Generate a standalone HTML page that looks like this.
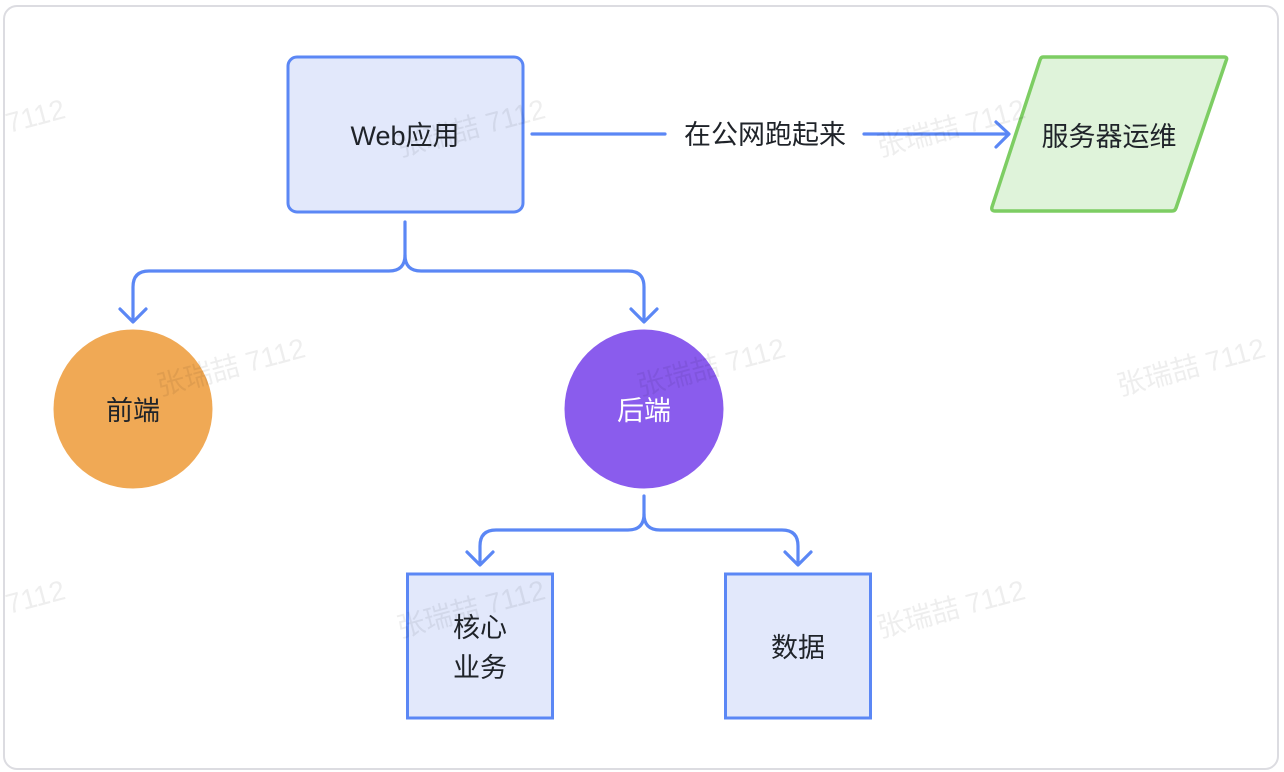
<!DOCTYPE html>
<html>
<head>
<meta charset="utf-8">
<style>
  html, body { margin:0; padding:0; background:#fff; }
  body { width:1284px; height:772px; overflow:hidden; }
  svg { display:block; }
  .t { font-family:"Liberation Sans","Noto Sans CJK SC",sans-serif; font-size:27px; fill:#1f2329; }
  .wm { font-family:"Liberation Sans","Noto Sans CJK SC",sans-serif; font-size:28px; fill:#000000; fill-opacity:0.065; }
</style>
</head>
<body>
<svg width="1284" height="772" viewBox="0 0 1284 772" xmlns="http://www.w3.org/2000/svg">
  <!-- outer frame -->
  <rect x="4" y="6" width="1274" height="763" rx="13" ry="13" fill="#fff" stroke="#dcdce1" stroke-width="2"/>

  <!-- connectors -->
  <g fill="none" stroke="#5b87f5" stroke-width="3.2" stroke-linecap="round" stroke-linejoin="round">
    <line x1="532" y1="134" x2="665" y2="134"/>
    <line x1="864" y1="134" x2="1008" y2="134"/>
    <polyline points="996,122 1009,134 996,147"/>
    <path d="M405 222 V255 Q405 271 389 271 H149 Q133 271 133 287 V320"/>
    <path d="M405 255 Q405 271 421 271 H628 Q644 271 644 287 V320"/>
    <polyline points="120,309 133,322 146,309"/>
    <polyline points="631,309 644,322 657,309"/>
    <path d="M644 496 V514 Q644 530 628 530 H496 Q480 530 480 546 V563"/>
    <path d="M644 514 Q644 530 660 530 H782 Q798 530 798 546 V563"/>
    <polyline points="467,552 480,565 493,552"/>
    <polyline points="785,552 798,565 811,552"/>
  </g>

  <!-- Web应用 box -->
  <rect x="288" y="57" width="235" height="155" rx="9" ry="9" fill="#e2e8fb" stroke="#5b87f5" stroke-width="3"/>
  <text class="t" x="405" y="136" text-anchor="middle" dominant-baseline="central">Web应用</text>

  <!-- label -->
  <text class="t" x="765" y="135" text-anchor="middle" dominant-baseline="central">在公网跑起来</text>

  <!-- parallelogram -->
  <path d="M1043 57 H1224 Q1228 57 1226 61 L1176 208 Q1175 211 1172 211 H995 Q991 211 992 207 L1040 60 Q1041 57 1043 57 Z" fill="#dff3da" stroke="#7dcd63" stroke-width="3.5" stroke-linejoin="round"/>
  <text class="t" x="1109" y="137" text-anchor="middle" dominant-baseline="central">服务器运维</text>

  <!-- front circle -->
  <circle cx="133" cy="409" r="79.5" fill="#f0a955"/>
  <text class="t" x="133" y="411" text-anchor="middle" dominant-baseline="central">前端</text>

  <!-- back circle -->
  <circle cx="644" cy="409" r="79.5" fill="#8a5ced"/>
  <text class="t" x="644" y="411" text-anchor="middle" dominant-baseline="central" style="fill:#ffffff">后端</text>

  <!-- core box -->
  <rect x="407.5" y="574" width="145" height="144" fill="#e2e8fb" stroke="#5b87f5" stroke-width="3"/>
  <text class="t" x="480" y="628" text-anchor="middle" dominant-baseline="central">核心</text>
  <text class="t" x="480" y="668" text-anchor="middle" dominant-baseline="central">业务</text>

  <!-- data box -->
  <rect x="725.5" y="574" width="145" height="144" fill="#e2e8fb" stroke="#5b87f5" stroke-width="3"/>
  <text class="t" x="798" y="648" text-anchor="middle" dominant-baseline="central">数据</text>

  <!-- watermarks on top -->
  <g class="wm" text-anchor="middle" dominant-baseline="central">
    <text x="-9" y="128" transform="rotate(-15 -9 128)">张瑞喆 7112</text>
    <text x="471" y="128" transform="rotate(-15 471 128)">张瑞喆 7112</text>
    <text x="951" y="128" transform="rotate(-15 951 128)">张瑞喆 7112</text>
    <text x="231" y="367" transform="rotate(-15 231 367)">张瑞喆 7112</text>
    <text x="711" y="367" transform="rotate(-15 711 367)">张瑞喆 7112</text>
    <text x="1191" y="367" transform="rotate(-15 1191 367)">张瑞喆 7112</text>
    <text x="-9" y="609" transform="rotate(-15 -9 609)">张瑞喆 7112</text>
    <text x="471" y="609" transform="rotate(-15 471 609)">张瑞喆 7112</text>
    <text x="951" y="609" transform="rotate(-15 951 609)">张瑞喆 7112</text>
  </g>
</svg>
</body>
</html>
